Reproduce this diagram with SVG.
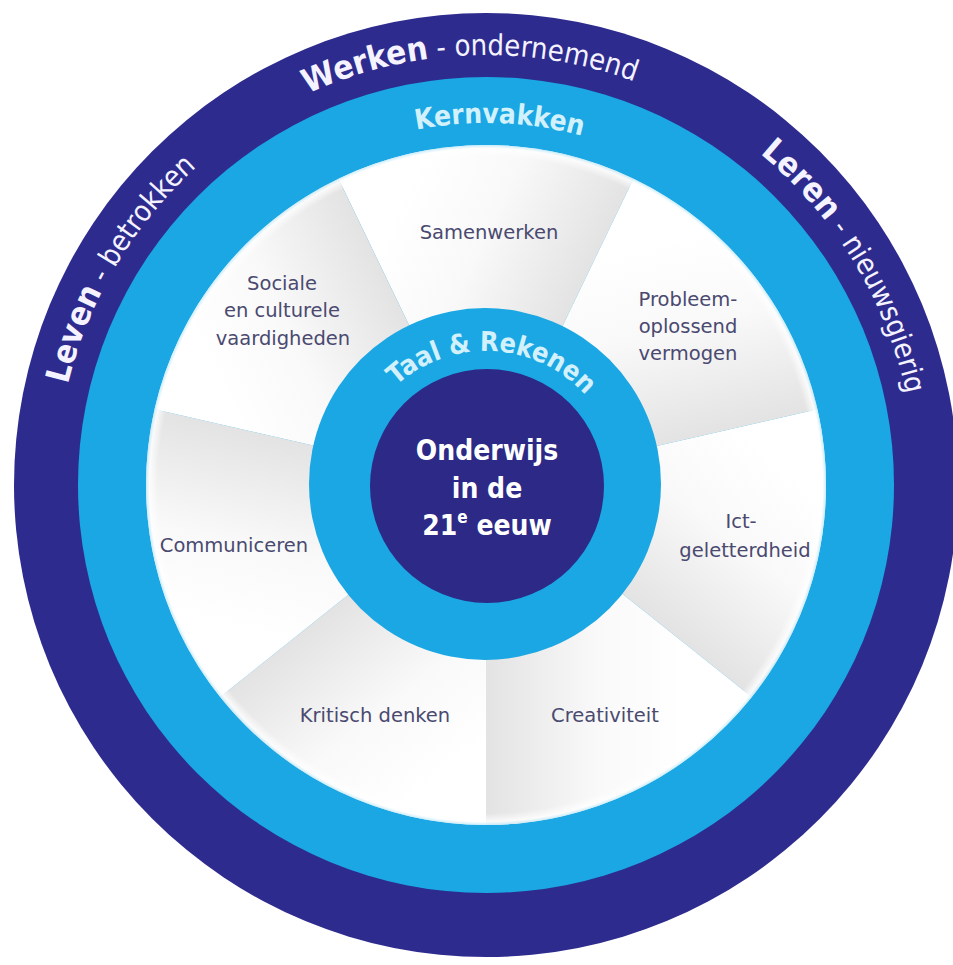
<svg xmlns="http://www.w3.org/2000/svg" width="953" height="965" viewBox="0 0 953 965">
  <style>
    .dark{fill:#2e2b8e}
    .core{fill:#2c2987}
    .light{fill:#1ba7e3}
    .lbl{font-family:'DejaVu Sans',sans-serif;font-size:19.5px;fill:#4a4970;text-anchor:middle}
    .ringtxt{font-family:'DejaVu Sans Condensed','DejaVu Sans',sans-serif;font-stretch:condensed;fill:#f4f3ff}
    .cyantxt{font-family:'DejaVu Sans Condensed','DejaVu Sans',sans-serif;font-stretch:condensed;font-weight:bold;fill:#d2f1fc}
    .ctr{font-family:'DejaVu Sans Condensed','DejaVu Sans',sans-serif;font-stretch:condensed;font-weight:bold;font-size:28px;fill:#ffffff;text-anchor:middle}
    .b{font-weight:bold;font-size:33px}
    .r{font-weight:normal;font-size:29px}
  </style>
  <defs>
    <linearGradient id="segGrad" gradientUnits="userSpaceOnUse" x1="-180.2" y1="-86.8" x2="0" y2="0">
      <stop offset="0" stop-color="#ffffff"/>
      <stop offset="0.45" stop-color="#f9f9f9"/>
      <stop offset="1" stop-color="#e3e3e3"/>
    </linearGradient>
    <radialGradient id="rimGlow" cx="486" cy="485" r="340" gradientUnits="userSpaceOnUse">
      <stop offset="0.965" stop-color="#ffffff" stop-opacity="0"/>
      <stop offset="0.99" stop-color="#ffffff" stop-opacity="0.8"/>
      <stop offset="1" stop-color="#c4eaf9" stop-opacity="0.9"/>
    </radialGradient>
    <path id="arcOuter" d="M486,915 A430,430 0 1 1 486,55 A430,430 0 1 1 486,915"/>
    <path id="arcKern" d="M486,847 A362,362 0 1 1 486,123 A362,362 0 1 1 486,847"/>
    <path id="arcTaal" d="M486,619 A134,134 0 1 1 486,351 A134,134 0 1 1 486,619"/>
    <path id="sector" d="M0,0 L-147.52,-306.33 A340,340 0 0 1 147.52,-306.33 Z"/>
  </defs>

  <rect width="953" height="965" fill="#ffffff"/>

  <g id="ring-outer">
    <circle class="dark" cx="486" cy="485" r="472"/>
    <text class="ringtxt"><textPath href="#arcOuter" startOffset="33.5%" text-anchor="middle"><tspan class="b">Leven</tspan><tspan class="r"> - betrokken</tspan></textPath></text>
    <text class="ringtxt"><textPath href="#arcOuter" startOffset="49.4%" text-anchor="middle"><tspan class="b">Werken</tspan><tspan class="r"> - ondernemend</tspan></textPath></text>
    <text class="ringtxt"><textPath href="#arcOuter" startOffset="66.3%" text-anchor="middle"><tspan class="b">Leren</tspan><tspan class="r"> - nieuwsgierig</tspan></textPath></text>
  </g>

  <g id="ring-kernvakken">
    <circle class="light" cx="486" cy="485" r="408"/>
    <text class="cyantxt" font-size="28"><textPath href="#arcKern" startOffset="50.6%" text-anchor="middle">Kernvakken</textPath></text>
  </g>

  <g id="segment-shapes">
    <use href="#sector" fill="url(#segGrad)" transform="translate(486 485) rotate(0)"/>
    <use href="#sector" fill="url(#segGrad)" transform="translate(486 485) rotate(51.4286)"/>
    <use href="#sector" fill="url(#segGrad)" transform="translate(486 485) rotate(102.8571)"/>
    <use href="#sector" fill="url(#segGrad)" transform="translate(486 485) rotate(154.2857)"/>
    <use href="#sector" fill="url(#segGrad)" transform="translate(486 485) rotate(205.7143)"/>
    <use href="#sector" fill="url(#segGrad)" transform="translate(486 485) rotate(257.1429)"/>
    <use href="#sector" fill="url(#segGrad)" transform="translate(486 485) rotate(308.5714)"/>
    <circle cx="486" cy="485" r="340" fill="url(#rimGlow)"/>
  </g>

  <g id="seg-samenwerken">
    <text class="lbl" x="489" y="239">Samenwerken</text>
  </g>
  <g id="seg-probleem">
    <text class="lbl" x="688" y="306">Probleem-</text>
    <text class="lbl" x="688" y="333">oplossend</text>
    <text class="lbl" x="688" y="360">vermogen</text>
  </g>
  <g id="seg-ict">
    <text class="lbl" x="741" y="528">Ict-</text>
    <text class="lbl" x="745" y="557">geletterdheid</text>
  </g>
  <g id="seg-creativiteit">
    <text class="lbl" x="605" y="722">Creativiteit</text>
  </g>
  <g id="seg-kritisch">
    <text class="lbl" x="375" y="722">Kritisch denken</text>
  </g>
  <g id="seg-communiceren">
    <text class="lbl" x="234" y="552">Communiceren</text>
  </g>
  <g id="seg-sociale">
    <text class="lbl" x="282" y="290">Sociale</text>
    <text class="lbl" x="282" y="317">en culturele</text>
    <text class="lbl" x="283" y="345">vaardigheden</text>
  </g>

  <g id="ring-taal">
    <circle class="light" cx="485" cy="484" r="176"/>
    <text class="cyantxt" font-size="27"><textPath href="#arcTaal" startOffset="50.8%" text-anchor="middle">Taal &amp; Rekenen</textPath></text>
  </g>

  <g id="center">
    <circle class="core" cx="487" cy="486" r="117"/>
    <text class="ctr" x="487" y="460">Onderwijs</text>
    <text class="ctr" x="487" y="498">in de</text>
    <text class="ctr" x="487" y="535">21<tspan font-size="17" dy="-12">e</tspan><tspan dy="12"> eeuw</tspan></text>
  </g>
</svg>
